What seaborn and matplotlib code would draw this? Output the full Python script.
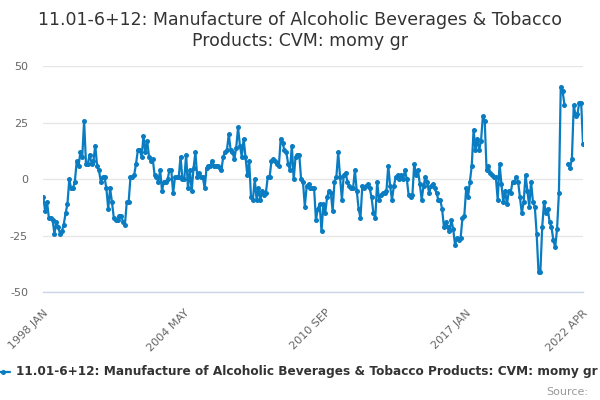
import numpy as np
import pandas as pd
import matplotlib
matplotlib.use("Agg")
import matplotlib.pyplot as plt
from matplotlib.lines import Line2D
import seaborn as sns

title = "11.01-6+12: Manufacture of Alcoholic Beverages & Tobacco\nProducts: CVM: momy gr"
series_name = "11.01-6+12: Manufacture of Alcoholic Beverages & Tobacco Products: CVM: momy gr"
source_text = "Source:"
start = "1998-01"

v1998 = [-8, -14, -10, -17, -17, -18, -24, -19, -21, -24, -23, -20]
v1999 = [-15, -11, 0, -4, -4, -1, 8, 6, 12, 10, 26, 7]
v2000 = [7, 11, 7, 8, 15, 6, 4, -1, 1, 1, -4, -13]
v2001 = [-4, -10, -17, -18, -18, -16, -16, -19, -20, -10, -10, 1]
v2002 = [1, 2, 7, 13, 13, 10, 19, 12, 17, 10, 8, 9]
v2003 = [2, 1, -1, 4, -5, -1, -1, 0, 4, 4, -6, 1]
v2004 = [1, 1, 10, 0, 0, 11, -4, 4, -5, 5, 12, 1]
v2005 = [3, 1, 1, -4, 5, 6, 6, 8, 6, 6, 6, 5]
v2006 = [4, 10, 12, 13, 20, 13, 12, 9, 14, 23, 15, 10]
v2007 = [18, 10, 2, 8, -8, -9, 0, -9, -4, -9, -5, -7]
v2008 = [-6, 1, 1, 8, 9, 8, 7, 6, 18, 16, 13, 12]
v2009 = [7, 4, 15, 0, 10, 11, 11, 0, -1, -12, -3, -2]
v2010 = [-4, -4, -4, -18, -13, -11, -23, -11, -15, -8, -5, -6]
v2011 = [-14, -1, 1, 12, 1, -9, 2, 3, -1, -3, -4, -4]
v2012 = [4, -5, -13, -17, -3, -4, -3, -2, -4, -8, -15, -17]
v2013 = [-1, -9, -7, -6, -6, -5, 6, -3, -9, -3, 1, 2]
v2014 = [0, 2, 0, 4, 0, -7, -8, -7, 7, 2, 4, -2]
v2015 = [-9, -3, 1, -1, -6, -3, -2, -4, -6, -9, -9, -13]
v2016 = [-21, -19, -21, -23, -18, -22, -29, -26, -27, -26, -17, -16]
v2017 = [-4, -8, -1, 6, 22, 13, 18, 13, 17, 28, 26, 4]
v2018 = [6, 3, 2, 1, 1, -9, 7, -2, -10, -5, -11, -5]
v2019 = [-6, -1, -1, 1, -1, -8, -15, -10, 2, -5, -12, -1]
v2020 = [-10, -12, -24, -41, -41, -21, -10, -15, -13, -19, -21, -27]
v2021 = [-30, -22, -6, 41, 39, 33, np.nan, 7, 5, 9, 33, 28]
v2022 = [29, 34, 34, 15.5]

values = (v1998 + v1999 + v2000 + v2001 + v2002 + v2003 + v2004 + v2005 + v2006
          + v2007 + v2008 + v2009 + v2010 + v2011 + v2012 + v2013 + v2014 + v2015
          + v2016 + v2017 + v2018 + v2019 + v2020 + v2021 + v2022)

periods = pd.period_range(start, periods=len(values), freq="M")
y_ticks = [-50, -25, 0, 25, 50]
y_labels = ["-50", "-25", "0", "25", "50"]

df = pd.DataFrame({"x": np.arange(len(values)), "y": values})
df["seg"] = df["y"].isna().cumsum()
df = df.dropna()

sns.set_theme(style="white")
plt.rcParams["font.family"] = ["DejaVu Sans"]
plt.rcParams["axes.unicode_minus"] = False

fig = plt.figure(figsize=(6, 4), dpi=100)
ax = fig.add_axes([0.0722, 0.269, 0.8995, 0.565])

line_color = "#0a7cc1"
sns.lineplot(data=df, x="x", y="y", units="seg", estimator=None, ax=ax,
             color=line_color, linewidth=1.6, marker="o", markersize=3.6,
             markeredgewidth=0, legend=False)

n = len(values)
ax.set_xlim(0, n - 1)
ax.set_ylim(-50, 50)

# y axis
ax.set_yticks(y_ticks)
ax.set_yticklabels(y_labels)
ax.tick_params(axis="y", length=0, pad=11, labelsize=8, labelcolor="#666666")
ax.yaxis.grid(True, color="#e6e6e6", linewidth=1)
ax.xaxis.grid(False)

# x axis ticks every 19 months, labels every 4th tick plus last
tick_pos = list(range(0, n - 19, 19)) + [n - 1]
labels = []
for p in tick_pos:
    if p % 76 == 0 or p == n - 1:
        pr = periods[p]
        labels.append(f"{pr.year} {pr.strftime('%b').upper()}")
    else:
        labels.append("")
ax.set_xticks(tick_pos)
ax.set_xticklabels(labels, rotation=45, ha="right", rotation_mode="anchor")
ax.tick_params(axis="x", length=7, width=1, color="#ccd6eb", labelsize=8,
               labelcolor="#666666", pad=4, direction="out")

for s in ["top", "right", "left"]:
    ax.spines[s].set_visible(False)
ax.spines["bottom"].set_color("#ccd6eb")
ax.spines["bottom"].set_linewidth(1)
ax.set_xlabel("")
ax.set_ylabel("")

fig.text(0.5, 0.972, title, ha="center", va="top", fontsize=12.5,
         color="#333333", linespacing=1.2)

# legend
ly = 1 - 372 / 400
fig.add_artist(Line2D([-0.01, 0.017], [ly, ly], color=line_color, linewidth=1.6,
                      transform=fig.transFigure))
fig.add_artist(Line2D([0.005], [ly], color=line_color, marker="o", markersize=3.6,
                      markeredgewidth=0, transform=fig.transFigure))
fig.text(0.027, ly, series_name, ha="left", va="center", fontsize=8.75,
         fontweight="bold", color="#333333")
fig.text(0.98, 1 - 392 / 400, source_text, ha="right", va="center", fontsize=8,
         color="#999999")

fig.savefig("out.png", dpi=100)
